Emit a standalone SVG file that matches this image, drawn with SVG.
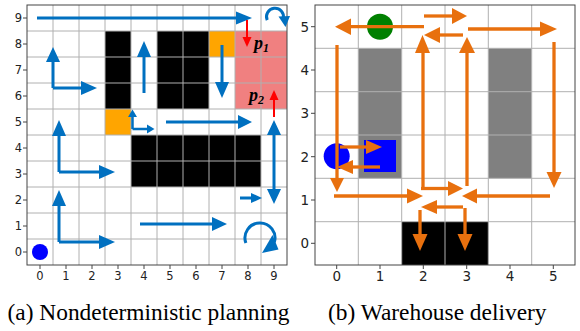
<svg xmlns="http://www.w3.org/2000/svg" width="580" height="331" viewBox="0 0 580 331">
<style>
.grid{stroke:#b0b0b0;stroke-width:1;fill:none}
.spine{stroke:#444;stroke-width:1;fill:none}
.tick{stroke:#444;stroke-width:1}
.tl{font-family:"DejaVu Sans",sans-serif;font-size:11.5px;fill:#222}
.tr{font-family:"DejaVu Sans",sans-serif;font-size:13.5px;fill:#222}
.cap{font-family:"Liberation Serif",serif;font-size:23.4px;fill:#000}
.bl{stroke:#0070C0;stroke-width:3;fill:none}
.bh{fill:#0070C0}
.rd{stroke:#FF0000;stroke-width:2;fill:none}
.rh{fill:#FF0000}
.or{stroke:#E8700E;stroke-width:3.3;fill:none}
.oh{fill:#E8700E}
.pl{font-family:"Liberation Serif",serif;font-style:italic;font-weight:bold;fill:#000}
</style>

<!-- Panel (a) -->
<g id="panel-a">
  <rect x="27" y="5" width="260" height="260" fill="#fff"/>
  <g id="cells-a">
    <rect x="105" y="31" width="26" height="78" fill="#000"/>
    <rect x="157" y="31" width="52" height="78" fill="#000"/>
    <rect x="131" y="135" width="130" height="52" fill="#000"/>
    <rect x="209" y="31" width="26" height="26" fill="#FFA500"/>
    <rect x="105" y="109" width="26" height="26" fill="#FFA500"/>
    <rect x="235" y="31" width="52" height="78" fill="#F08080"/>
  </g>
  <g id="grid-a" class="grid">
    <path d="M53,5V265M79,5V265M105,5V265M131,5V265M157,5V265M183,5V265M209,5V265M235,5V265M261,5V265"/>
    <path d="M27,31H287M27,57H287M27,83H287M27,109H287M27,135H287M27,161H287M27,187H287M27,213H287M27,239H287"/>
  </g>
  <rect class="spine" x="27" y="5" width="260" height="260"/>
  <g id="ticks-a" class="tick">
    <path d="M40,265v4M66,265v4M92,265v4M118,265v4M144,265v4M170,265v4M196,265v4M222,265v4M248,265v4M274,265v4"/>
    <path d="M23,18h4M23,44h4M23,70h4M23,96h4M23,122h4M23,148h4M23,174h4M23,200h4M23,226h4M23,252h4"/>
  </g>
  <g id="xlabels-a" class="tl" text-anchor="middle">
    <text x="40" y="280">0</text><text x="66" y="280">1</text><text x="92" y="280">2</text><text x="118" y="280">3</text><text x="144" y="280">4</text>
    <text x="170" y="280">5</text><text x="196" y="280">6</text><text x="222" y="280">7</text><text x="248" y="280">8</text><text x="274" y="280">9</text>
  </g>
  <g id="ylabels-a" class="tl" text-anchor="end">
    <text x="22" y="22">9</text><text x="22" y="48">8</text><text x="22" y="74">7</text><text x="22" y="100">6</text><text x="22" y="126">5</text>
    <text x="22" y="152">4</text><text x="22" y="178">3</text><text x="22" y="204">2</text><text x="22" y="230">1</text><text x="22" y="256">0</text>
  </g>
  <circle id="agent-a" cx="40" cy="252" r="8" fill="#0000FF"/>
  <g id="connectors-a">
    <path class="bl" d="M37,18H237"/><polygon class="bh" points="236,11.5 252,18 236,24.5"/>
    <path class="bl" d="M53,88V61M53,88H82"/><polygon class="bh" points="46,62 53,47 60,62"/><polygon class="bh" points="81,81 97,88 81,95"/>
    <path class="bl" d="M144,93V56"/><polygon class="bh" points="137,57 144,41 151,57"/>
    <path class="bl" d="M222,45V83"/><polygon class="bh" points="215,82 222,98 229,82"/>
    <path class="bl" d="M132.5,129V116M132.5,129H148" style="stroke-width:2.5"/><polygon class="bh" points="128,117 132.5,109.5 137,117"/><polygon class="bh" points="147,124.5 154.5,129 147,133.5"/>
    <path class="bl" d="M166,122H239"/><polygon class="bh" points="238,115 252,122 238,129"/>
    <path class="bl" d="M274,134V190"/><polygon class="bh" points="267,135 274,120 281,135"/><polygon class="bh" points="267,189 274,204 281,189"/>
    <path class="bl" d="M59,172V135M59,172H100"/><polygon class="bh" points="52,136 59,120 66,136"/><polygon class="bh" points="99,165 115,172 99,179"/>
    <path class="bl" d="M59,242V205M59,242H100"/><polygon class="bh" points="52,206 59,190 66,206"/><polygon class="bh" points="99,235 115,242 99,249"/>
    <path class="bl" d="M140,224H213"/><polygon class="bh" points="212,217 227,224 212,231"/>
    <path class="bl" d="M240,198H253"/><polygon class="bh" points="251,193 262,198 251,203"/>
    <path class="bl" d="M267.2,20.2 A8.5,8.5 0 1,1 283.3,18.5"/><polygon class="bh" points="278.5,16.5 290,16 285.5,27"/>
    <path class="bl" d="M245.9,243.1 A15,15 0 1,1 274.3,242.4"/><polygon class="bh" points="272.5,235 278.5,249.5 262,253"/>
    <path class="rd" d="M247,20V38"/><polygon class="rh" points="242.5,37 247,47 251.5,37"/>
    <path class="rd" d="M274,117V99"/><polygon class="rh" points="269.5,100 274,90 278.5,100"/>
  </g>
  <text class="pl" x="254" y="49" font-size="18">p<tspan font-size="12" dy="3">1</tspan></text>
  <text class="pl" x="249" y="101" font-size="18">p<tspan font-size="12" dy="3">2</tspan></text>
</g>

<!-- Panel (b) -->
<g id="panel-b">
  <rect x="315" y="5" width="260" height="260" fill="#fff"/>
  <g id="cells-b">
    <rect x="358.3" y="48.3" width="43.3" height="130" fill="#808080"/>
    <rect x="488.3" y="48.3" width="43.3" height="130" fill="#808080"/>
    <rect x="401.7" y="221.7" width="86.7" height="43.3" fill="#000"/>
  </g>
  <g id="grid-b" class="grid">
    <path d="M358.3,5V265M401.7,5V265M445,5V265M488.3,5V265M531.7,5V265"/>
    <path d="M315,48.3H575M315,91.7H575M315,135H575M315,178.3H575M315,221.7H575"/>
  </g>
  <rect class="spine" x="315" y="5" width="260" height="260"/>
  <g id="ticks-b" class="tick">
    <path d="M336.7,265v4M380,265v4M423.3,265v4M466.7,265v4M510,265v4M553.3,265v4"/>
    <path d="M311,26.7h4M311,70h4M311,113.3h4M311,156.7h4M311,200h4M311,243.3h4"/>
  </g>
  <g id="xlabels-b" class="tr" text-anchor="middle">
    <text x="336.7" y="280.5">0</text><text x="380" y="280.5">1</text><text x="423.3" y="280.5">2</text>
    <text x="466.7" y="280.5">3</text><text x="510" y="280.5">4</text><text x="553.3" y="280.5">5</text>
  </g>
  <g id="ylabels-b" class="tr" text-anchor="end">
    <text x="309" y="31.5">5</text><text x="309" y="75">4</text><text x="309" y="118">3</text>
    <text x="309" y="161.5">2</text><text x="309" y="205">1</text><text x="309" y="248">0</text>
  </g>
  <circle id="goal" cx="380" cy="26.7" r="13" fill="#008000"/>
  <circle id="robot" cx="336.7" cy="156.3" r="13" fill="#0000FF"/>
  <rect id="package" x="364" y="140" width="32" height="32" fill="#0000FF"/>
  <g id="connectors-b">
    <path class="or" d="M424,26.7H350"/><polygon class="oh" points="351,18.5 335,26.7 351,34.9"/>
    <path class="or" d="M424,16H453"/><polygon class="oh" points="452,8 467,16 452,24"/>
    <path class="or" d="M463,35H439"/><polygon class="oh" points="440,27 424,35 440,43"/>
    <path class="or" d="M423,190V52"/><polygon class="oh" points="415,53 422.5,35 430,53"/>
    <path class="or" d="M467,186V52"/><polygon class="oh" points="459,53 467,37 475,53"/>
    <path class="or" d="M468,29H541"/><polygon class="oh" points="540,21.5 557,29 540,36.5"/>
    <path class="or" d="M554,42V173"/><polygon class="oh" points="546.5,172 554,188 561.5,172"/>
    <path class="or" d="M337,45V179"/><polygon class="oh" points="330,178 337,192 344,178"/>
    <path class="or" d="M340,147H367"/><polygon class="oh" points="366,140 382,147 366,154"/>
    <path class="or" d="M380,167H352"/><polygon class="oh" points="353,160 337,167 353,174"/>
    <path class="or" d="M334,196H408"/><polygon class="oh" points="407,188.5 423,196 407,203.5"/>
    <path class="or" d="M421,188.5H449"/><polygon class="oh" points="448,181 463,188.5 448,196"/>
    <path class="or" d="M550,196H476"/><polygon class="oh" points="477,188.5 462,196 477,203.5"/>
    <path class="or" d="M463,207H436"/><polygon class="oh" points="437,200 421,207 437,214"/>
    <path class="or" d="M420,210V235"/><polygon class="oh" points="412.5,234 420,251 427.5,234"/>
    <path class="or" d="M465,208V235"/><polygon class="oh" points="457.5,234 465,251 472.5,234"/>
  </g>
</g>

<text class="cap" x="7.5" y="320">(a) Nondeterministic planning</text>
<text class="cap" x="328" y="320">(b) Warehouse delivery</text>
</svg>
